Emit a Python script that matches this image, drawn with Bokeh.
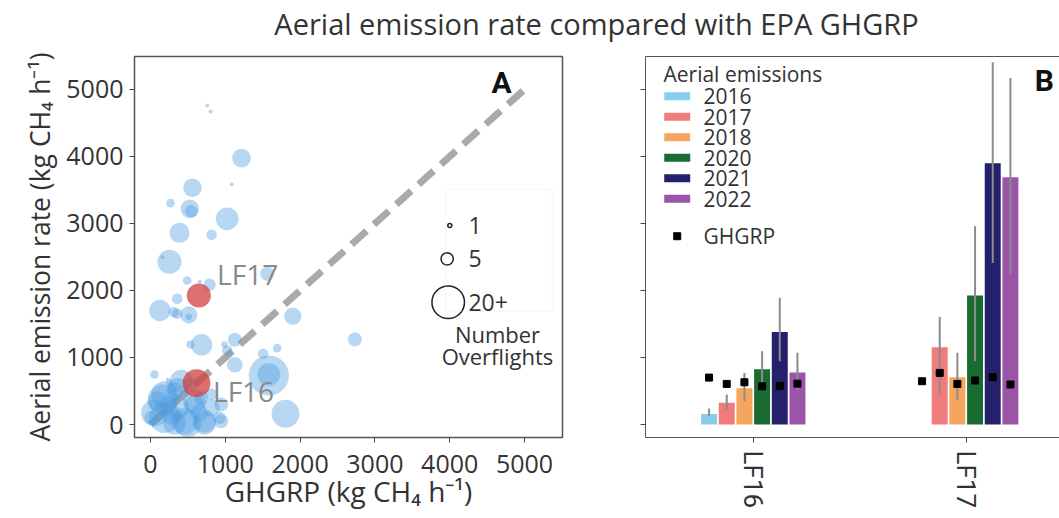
import math
from bokeh.plotting import figure
from bokeh.layouts import row, column
from bokeh.models import (ColumnDataSource, FixedTicker, Label, LinearAxis,
                          BoxAnnotation, Range1d)
from bokeh.core.properties import value
from bokeh.embed import file_html
from bokeh.resources import INLINE

# ---------------- Panel A data ----------------
ghgrp_x = [758, 802, 1217, 561, 1087, 267, 526, 545, 1025, 388, 816, 254, 160, 1560,
           490, 659, 789, 357, 125, 312, 357, 512, 512, 1903, 2732, 682, 535, 1127,
           1025, 1507, 1694, 1127, 1582, 1582, 53, 1805, 254, 187, 410, 53, 187, 455,
           365, 722, 811, 945, 945, 588, 231, 98, 321, 678, 10, 544, 989,
           165, 365, 321, 499, 722, 922, 811, 588, 232, 280, 650]
aerial_y = [4761, 4672, 3975, 3533, 3587, 3303, 3219, 3184, 3070, 2861, 2831, 2428, 2497,
            2249, 2149, 2130, 2085, 1876, 1701, 1677, 1652, 1637, 1607, 1617, 1269, 1189,
            1194, 1264, 1104, 1055, 1139, 891, 731, 746, 746, 160, 621, 448, 646, 173, 99,
            49, 248, 49, 248, 298, 49, 298, 298, 348, 497, 397, 99, 597, 1194,
            373, 546, 20, 10, 20, 99, 448, 348, 672, 150, 180]
overflights = [1, 1, 9, 9, 1, 3, 9, 5, 12, 10, 4, 13, 1, 6, 3, 1, 5, 4, 11, 4, 4, 8, 2, 8,
               6, 11, 3, 6, 4, 4, 3, 7, 27, 12, 3, 16, 2, 15, 12, 15, 18, 15, 12, 12, 8, 6,
               6, 10, 8, 10, 8, 6, 6, 6, 2,
               18, 10, 12, 15, 12, 5, 5, 12, 1, 10, 8]

site_names = ["LF17", "LF16"]
site_ghgrp = [646, 615]
site_aerial = [1925, 617]
site_overflights = [13, 16]

legend_counts = [1, 5, 20]
legend_count_labels = ["1", "5", "20+"]
axis_ticks = [0, 1000, 2000, 3000, 4000, 5000]
one_to_one = [0, 5000]

# ---------------- Panel B data ----------------
sites = ["LF16", "LF17"]
years = ["2016", "2017", "2018", "2020", "2021", "2022"]
year_colors = ["#87cdee", "#f07b7b", "#f6a55e", "#196b30", "#25206b", "#9a55a8"]
nan = float("nan")
aerial_mean = {
    "LF16": [158, 323, 542, 825, 1380, 775],
    "LF17": [nan, 1154, 706, 1925, 3900, 3691],
}
aerial_low = {
    "LF16": [124, 224, 348, 597, 945, 522],
    "LF17": [nan, 448, 373, 945, 2412, 2239],
}
aerial_high = {
    "LF16": [239, 448, 770, 1094, 1890, 1069],
    "LF17": [nan, 1606, 1069, 2960, 5408, 5173],
}
ghgrp_site = {
    "LF16": [700, 606, 630, 570, 572, 610],
    "LF17": [646, 770, 606, 657, 706, 597],
}

TITLE = "Aerial emission rate compared with EPA GHGRP"

FONT = "Open Sans"
COND = "Roboto"
TXT = "#333333"

def size_of(n):
    return 4 * n ** 0.7

def style_axis(ax):
    ax.major_label_text_font = FONT
    ax.major_label_text_font_size = "25px"
    ax.major_label_text_color = TXT
    ax.axis_label_text_font = FONT
    ax.axis_label_text_font_size = "28px"
    ax.axis_label_text_font_style = "normal"
    ax.axis_label_text_color = TXT
    ax.minor_tick_line_color = None
    ax.major_tick_out = 5
    ax.major_tick_in = 0
    ax.major_tick_line_color = "#444444"
    ax.axis_line_color = "#555555"

def label(p, x, y, text, size, align="left", color=TXT, font=FONT, style="normal"):
    p.add_layout(Label(x=x, y=y, text=text, text_align=align, text_baseline="middle",
                       text_font=font, text_font_size=size, text_color=color,
                       text_font_style=style))

YR = (-194, 5492)

# ---------------- Title strip ----------------
pT = figure(width=1059, height=45, x_range=Range1d(0, 1059), y_range=Range1d(0, 45),
            output_backend="svg", toolbar_location=None, min_border=0,
            x_axis_location=None, y_axis_location=None)
pT.grid.grid_line_color = None
pT.outline_line_color = None
label(pT, 596, 22, TITLE, "29px", align="center")

# ---------------- Panel A ----------------
pA = figure(width=600, height=473, x_range=Range1d(-214, 5508), y_range=Range1d(*YR),
            output_backend="svg", toolbar_location=None,
            min_border_left=134, min_border_right=38, min_border_top=11, min_border_bottom=81)
pA.grid.grid_line_color = None
pA.outline_line_color = "#555555"
pA.outline_line_width = 1.5
for ax in (pA.xaxis[0], pA.yaxis[0]):
    style_axis(ax)
    ax.ticker = FixedTicker(ticks=axis_ticks)
pA.xaxis.axis_label = "GHGRP (kg CH\u2084 h\u207b\u00b9)"
pA.yaxis.axis_label = "Aerial emission rate (kg CH\u2084 h\u207b\u00b9)"
pA.yaxis.axis_label_text_font_size = "26.5px"
pA.xaxis.major_label_standoff = 12
pA.xaxis.axis_label_standoff = -4
pA.yaxis.major_label_standoff = 6
pA.yaxis.axis_label_standoff = 5

pA.line(one_to_one, one_to_one, line_color="#aaaaaa", line_width=7, line_dash="20 10")
srcA = ColumnDataSource(dict(x=ghgrp_x, y=aerial_y, s=[size_of(n) for n in overflights]))
pA.scatter("x", "y", size="s", source=srcA, fill_color="#4a9be0", fill_alpha=0.4, line_color=None)
pA.scatter(site_ghgrp, site_aerial, size=[size_of(n) for n in site_overflights],
           fill_color="#d04040", fill_alpha=0.75, line_color=None)

label(pA, 890, 2243, site_names[0], "28px", color="#8a8a8a")
label(pA, 836, 497, site_names[1], "28px", color="#8a8a8a")

# size legend
pA.add_layout(BoxAnnotation(left=3944, right=5370, bottom=1691, top=3507, fill_color=None,
                            line_color="#e2e2e2", line_width=1))
leg_y = [2970, 2472, 1825]
pA.scatter([4001, 3966, 3980], leg_y, size=[size_of(n) for n in legend_counts],
           fill_color=None, line_color="#222222", line_width=1.5)
for lab, yy in zip(legend_count_labels, leg_y):
    label(pA, 4250, yy, lab, "23px")
label(pA, 4639, 1348, "Number", "22px", align="center")
label(pA, 4639, 1019, "Overflights", "22px", align="center")
label(pA, 4693, 5109, "A", "30px", align="center", color="#111111", font=COND, style="bold")

# ---------------- Panel B ----------------
pB = figure(width=459, height=473, x_range=Range1d(-0.506, 1.438), y_range=Range1d(*YR),
            output_backend="svg", toolbar_location=None,
            min_border_left=45, min_border_right=0, min_border_top=11, min_border_bottom=81)
pB.grid.grid_line_color = None
pB.outline_line_color = None
for ax in (pB.xaxis[0], pB.yaxis[0]):
    style_axis(ax)
pB.yaxis.ticker = FixedTicker(ticks=[], minor_ticks=axis_ticks)
pB.yaxis.minor_tick_line_color = "#444444"
pB.yaxis.minor_tick_out = 5
pB.yaxis.minor_tick_in = 0
pB.xaxis.ticker = FixedTicker(ticks=list(range(len(sites))))
pB.xaxis.major_label_overrides = {i: s for i, s in enumerate(sites)}
pB.xaxis.major_label_orientation = "vertical"
pB.xaxis.major_label_text_font = COND
pB.xaxis.major_label_text_font_size = "26px"
pB.xaxis.major_label_standoff = 8
top_ax = LinearAxis(ticker=FixedTicker(ticks=[]), axis_line_color="#555555",
                    major_tick_line_color=None, minor_tick_line_color=None)
pB.add_layout(top_ax, "above")

pitch = 0.083
bw = 0.075
bar_x, bar_top, bar_col = [], [], []
err_x, err_lo, err_hi = [], [], []
gh_x, gh_y = [], []
for si, s in enumerate(sites):
    for yi, yr in enumerate(years):
        xx = si + (yi - (len(years) - 1) / 2) * pitch
        m = aerial_mean[s][yi]
        if not math.isnan(m):
            bar_x.append(xx); bar_top.append(m); bar_col.append(year_colors[yi])
            err_x.append(xx); err_lo.append(aerial_low[s][yi]); err_hi.append(aerial_high[s][yi])
        gh_x.append(xx); gh_y.append(ghgrp_site[s][yi])

pB.vbar(x=bar_x, top=bar_top, bottom=0, width=bw, fill_color=bar_col, line_color=None)
pB.segment(x0=err_x, y0=err_lo, x1=err_x, y1=err_hi, line_color="#8c8c8c", line_width=2)
pB.scatter(gh_x, gh_y, marker="square", size=7, fill_color="black", line_color="black")

# legend (drawn manually, positions in panel-B data space)
leg_top = 4900
leg_step = 306
sw_x0, sw_x1, txt_x = -0.418, -0.296, -0.234
leg_rows = [leg_top - i * leg_step for i in range(len(years))]
pB.segment(x0=[sw_x0] * len(years), x1=[sw_x1] * len(years), y0=leg_rows, y1=leg_rows,
           line_color=year_colors, line_width=8, line_cap="butt")
pB.text(x=[txt_x] * len(years), y=leg_rows, text=years, text_font=value(FONT),
        text_font_size="21px", text_color=TXT, text_baseline="middle", text_align="left")
pB.scatter([(sw_x0 + sw_x1) / 2], [2810], marker="square", size=7, fill_color="black",
           line_color="black")
label(pB, txt_x, 2810, "GHGRP", "21px")
label(pB, -0.4215, 5228, "Aerial emissions", "21px")
label(pB, 1.367, 5139, "B", "30px", align="center", color="#111111", font=COND, style="bold")

layout = column(pT, row(pA, pB, spacing=0), spacing=0)
open("out.html", "w").write(file_html(layout, INLINE))
